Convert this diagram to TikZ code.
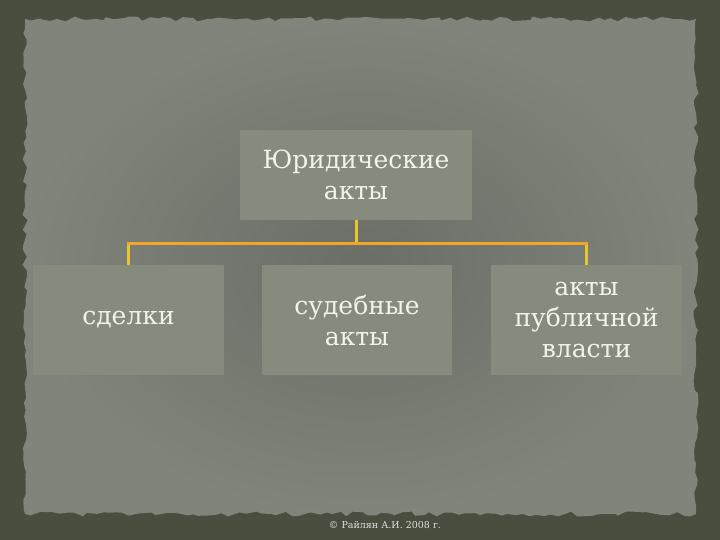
\documentclass[tikz,border=0pt]{standalone}
\usepackage{fontspec}
\setmainfont{DejaVu Serif}
\usetikzlibrary{decorations.pathmorphing}

\definecolor{frame}{HTML}{4A4E3F}
\definecolor{paper}{HTML}{80847A}
\definecolor{paperdark}{HTML}{6A6E67}
\definecolor{boxfill}{HTML}{868B7D}
\definecolor{busorange}{HTML}{F2A526}
\definecolor{busyellow}{HTML}{E9C529}
\definecolor{lettering}{HTML}{F3F3EC}

\begin{document}
\begin{tikzpicture}[x=1pt,y=-1pt]
        % background and torn paper
        \fill[frame] (0,0) rectangle (720,540);
        \shade[inner color=paperdark, outer color=paper, decorate,
               decoration={random steps, segment length=7pt, amplitude=2.5pt}]
               (25,19) rectangle (696,514);

        \begin{scope}[every node/.style={fill=boxfill, text=lettering, align=center,
                      inner sep=0pt, font=\fontsize{25}{31}\selectfont}]
            \node[minimum width=232pt, minimum height=90pt] (acts) at (356,175) {Юридические\\акты};

            \node[minimum width=191pt, minimum height=110pt] (deals) at (128.5,320) {сделки};
            \node[minimum width=190pt, minimum height=110pt] (court) at (357,320) {судебные\\акты};
            \node[minimum width=191pt, minimum height=110pt] (power) at (586.5,320) {акты\\публичной\\власти};
        \end{scope}

        \coordinate (bus) at (acts.south |- 0,243);

        \begin{scope}[line width=3pt]
            \draw[busyellow] (acts.south) -- (bus);
            \draw[busyellow] (deals.north) -- (deals.north |- bus);
            \draw[busyellow] (power.north) -- (power.north |- bus);
            \draw[busorange, line cap=rect] (deals.north |- bus) -- (power.north |- bus);
        \end{scope}

        \node[text=lettering!85!paper, font=\fontsize{9.5}{11}\selectfont] (copy) at (385,525) {© Райлян А.И. 2008 г.};
    \end{tikzpicture}
\end{document}
